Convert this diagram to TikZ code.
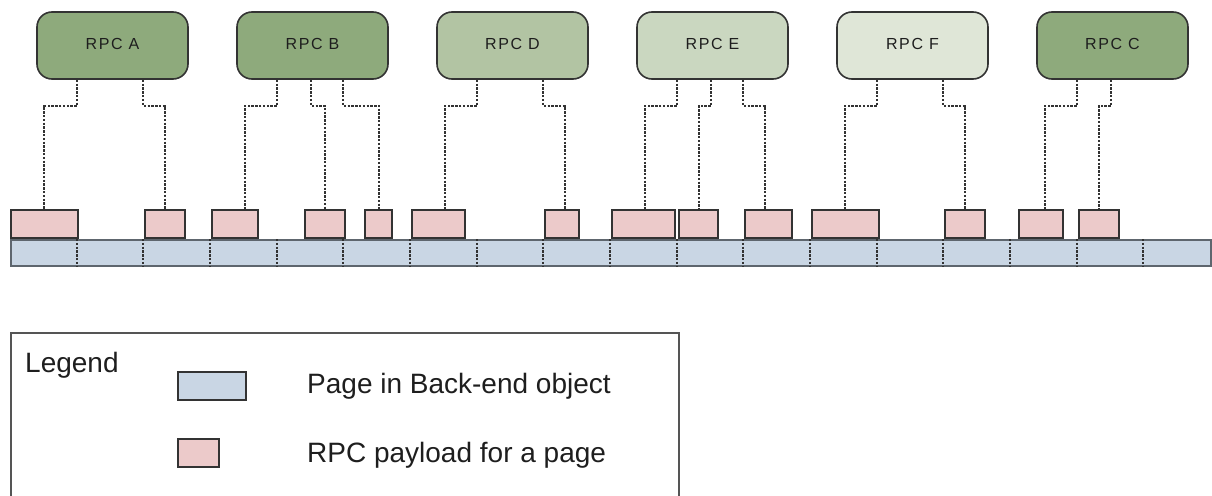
\documentclass[tikz,border=0pt]{standalone}
\usepackage{fontspec}
\setmainfont{Liberation Sans}
\newfontfamily\rpcfont[LetterSpace=10]{Liberation Sans}

\definecolor{rpcdark}{HTML}{8EAA7C}
\definecolor{rpcmid}{HTML}{B2C4A3}
\definecolor{rpclight}{HTML}{CAD7C0}
\definecolor{rpcpale}{HTML}{DFE6D7}
\definecolor{payfill}{HTML}{ECCACA}
\definecolor{pagefill}{HTML}{C9D6E4}
\definecolor{edge}{HTML}{333333}
\definecolor{baredge}{HTML}{5E666E}
\definecolor{legedge}{HTML}{555555}
\definecolor{ink}{HTML}{1E1E1E}

\begin{document}
\begin{tikzpicture}[x=1pt,y=-1pt,
  rpcbox/.style={draw=edge, line width=1.6pt, rounded corners=15pt,
    minimum width=151pt, minimum height=67pt, inner sep=0pt, text=ink,
    font=\rpcfont\fontsize{16}{18}\selectfont},
  payload/.style={draw=edge, fill=payfill, line width=2pt, inner sep=0pt,
    minimum height=28pt, anchor=south west},
  pagebar/.style={draw=baredge, fill=pagefill, line width=2pt, inner sep=0pt,
    minimum height=26pt, anchor=north west},
  conn/.style={draw=edge, line width=2pt, dash pattern=on 2.4pt off 1.4pt},
  divider/.style={draw=edge, line width=1.8pt, dash pattern=on 2.4pt off 1.4pt},
  swatch/.style={line width=1.6pt, inner sep=0pt, minimum height=28pt, anchor=north west},
  legtext/.style={anchor=base west, inner sep=0pt, text=ink, font=\fontsize{28}{32}\selectfont}
]
\useasboundingbox (0,0) rectangle (1212,495);

% RPC requests
\node[rpcbox, fill=rpcdark]  (A) at (112.5,45.5)  {\raisebox{3pt}{RPC A}};
\node[rpcbox, fill=rpcdark]  (B) at (312.5,45.5)  {\raisebox{3pt}{RPC B}};
\node[rpcbox, fill=rpcmid]   (D) at (512.5,45.5)  {\raisebox{3pt}{RPC D}};
\node[rpcbox, fill=rpclight] (E) at (712.5,45.5)  {\raisebox{3pt}{RPC E}};
\node[rpcbox, fill=rpcpale]  (F) at (912.5,45.5)  {\raisebox{3pt}{RPC F}};
\node[rpcbox, fill=rpcdark]  (C) at (1112.5,45.5) {\raisebox{3pt}{RPC C}};

% back-end object split into pages
\node[pagebar, minimum width=1200pt] (bar) at (10,239) {};
\foreach \k in {1,...,17}
  \draw[divider] ([xshift=\k*66.667pt]bar.north west) -- ([xshift=\k*66.667pt]bar.south west);

% payload pieces sitting on the pages
\foreach \n/\l/\r in {1/10/77, 2/144/184, 3/211/257, 4/304/344, 5/364/391,
    6/411/464, 7/544/578, 8/611/674, 9/678/717, 10/744/791, 11/811/878,
    12/944/984, 13/1018/1062, 14/1078/1118}
  \node[payload, minimum width={(\r-\l)*1pt}] (p\n) at (\l,239) {};

% RPC -> payload links
\foreach \rpc/\off/\p/\dx in {A/41/1/-0.5, A/107/2/0,
    B/41/3/10, B/75/4/0, B/107/5/0.5,
    D/41/6/6.5, D/107/7/3,
    E/41/8/1.5, E/75/9/0.5, E/107/10/-3.5,
    F/41/11/-0.5, F/107/12/0,
    C/41/13/4, C/75/14/0}
  \draw[conn] ([xshift=\off pt]\rpc.south west) -- ++(0,26) -| ([xshift=\dx pt]p\p.north);

% legend
\node[draw=legedge, line width=2pt, anchor=north west, inner sep=0pt,
  minimum width=668pt, minimum height=200pt] (legend) at (10,332) {};
\node[legtext] (legtitle) at (25,372) {Legend};
\node[swatch, draw=edge, fill=pagefill, minimum width=68pt] (swpage) at (177,371) {};
\node[swatch, draw=edge, fill=payfill, minimum width=41pt] (swpay) at (177,438) {};
\node[legtext] (txtpage) at (307,393) {Page in Back-end object};
\node[legtext] (txtpay) at (307,462) {RPC payload for a page};
\end{tikzpicture}
\end{document}
